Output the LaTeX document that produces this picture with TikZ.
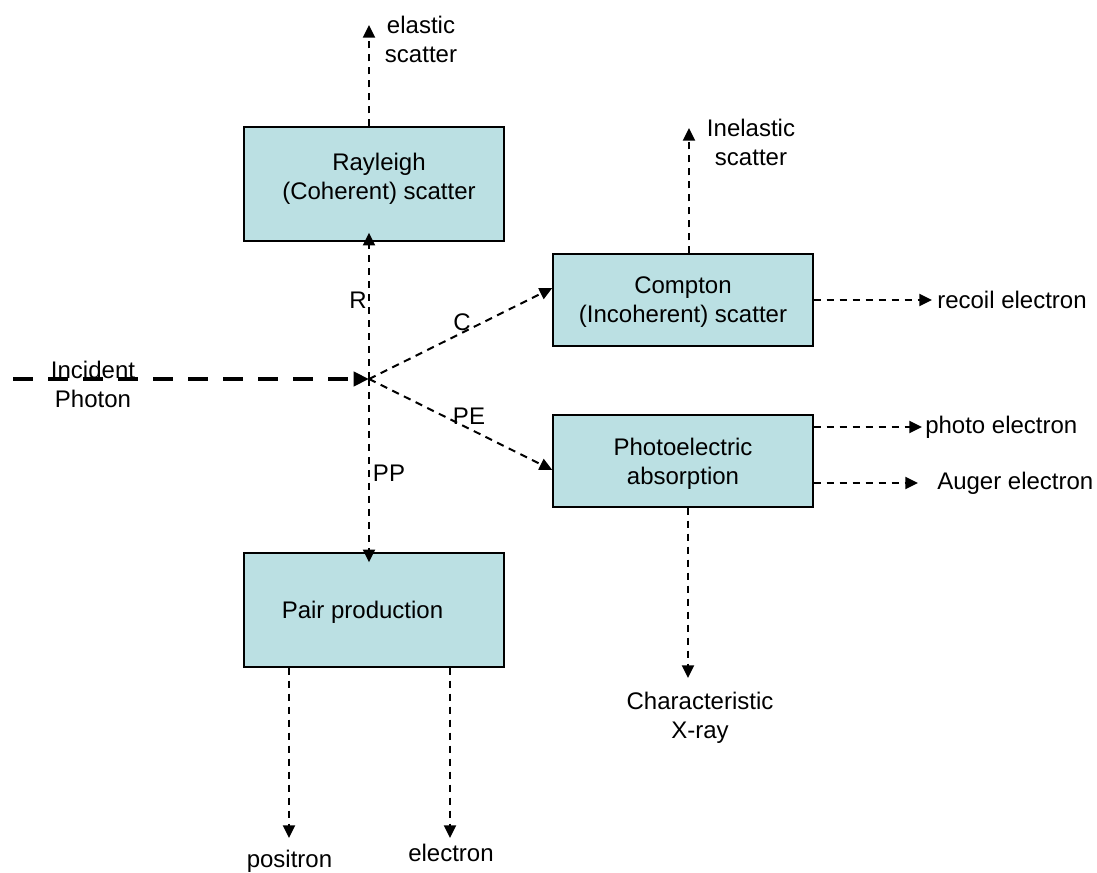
\documentclass[tikz,border=0pt]{standalone}
\usepackage{fontspec}
\setmainfont{Liberation Sans}
\usetikzlibrary{arrows.meta,calc}
\definecolor{boxfill}{RGB}{187,224,227}

\begin{document}
\begin{tikzpicture}[x=0.75pt,y=-0.75pt,
  font=\fontsize{18}{21.75}\selectfont,
  box/.style={draw=black, line width=1.1pt, fill=boxfill, inner sep=0pt, minimum width=195pt},
  txt/.style={align=center, inner sep=0pt},
  flow/.style={line width=1.5pt, dash pattern=on 5.5pt off 4.25pt,
               -{Triangle[length=9.5pt,width=9pt]}},
  incident/.style={line width=3.4pt, dash pattern=on 15pt off 11.25pt,
                   -{Triangle[length=11.5pt,width=10.5pt]}}
]
\useasboundingbox (0,0) rectangle (1097,873);

% interaction boxes
\node[box, minimum height=85.5pt] (rayleigh) at (374,184) {};
\node[box, minimum height=69pt]   (compton)  at (683,300) {};
\node[box, minimum height=69pt]   (photo)    at (683,461) {};
\node[box, minimum height=85.5pt] (pair)     at (374,610) {};

\node[txt] (rayleigh-t) at (379,179) {Rayleigh\\(Coherent) scatter};
\node[txt] (compton-t)  at (683,302) {Compton\\(Incoherent) scatter};
\node[txt] (photo-t)    at (683,464) {Photoelectric\\absorption};
\node[txt] (pair-t)     at (362.5,612) {Pair production};

% incoming photon
\coordinate (src) at (13,379);
\coordinate (o) at (369,379);
\draw[incident] (src) -- (o);
\node[txt] (incident-t) at (93,384) {Incident\\Photon};

% interaction channels
\draw[flow, shorten >=-6.75pt] (o) -- (o |- rayleigh.south);
\draw[flow, shorten >=-7.5pt]  (o) -- (o |- pair.north);
\draw[flow] (o) -- ($(compton.west)+(0,-12)$);
\draw[flow] (o) -- ($(photo.west)+(0,9)$);

\node[txt] (r-lab)  at (358,300) {R};
\node[txt] (c-lab)  at (462,322) {C};
\node[txt] (pe-lab) at (469,416) {PE};
\node[txt] (pp-lab) at (389,473) {PP};

% products
\coordinate (elastic-tip)   at (369,25);
\coordinate (inelastic-tip) at (689,128);
\coordinate (recoil-tip)    at (932,300);
\coordinate (pe-tip)        at (922,427);
\coordinate (auger-tip)     at (918,483);
\coordinate (xray-tip)      at (688,678);
\coordinate (positron-tip)  at (289,838);
\coordinate (electron-tip)  at (450,838);

\draw[flow] (elastic-tip |- rayleigh.north) -- (elastic-tip);
\draw[flow] (inelastic-tip |- compton.north) -- (inelastic-tip);
\draw[flow] (compton.east |- recoil-tip) -- (recoil-tip);
\draw[flow] (photo.east |- pe-tip) -- (pe-tip);
\draw[flow] (photo.east |- auger-tip) -- (auger-tip);
\draw[flow] (xray-tip |- photo.south) -- (xray-tip);
\draw[flow] (positron-tip |- pair.south) -- (positron-tip);
\draw[flow] (electron-tip |- pair.south) -- (electron-tip);

\node[txt] (elastic-t)   at (421,39)  {elastic\\scatter};
\node[txt] (inelastic-t) at (751,142) {Inelastic\\scatter};
\node[txt, anchor=west] (recoil-t) at (937,300) {recoil electron};
\node[txt, anchor=west] (pe-t)     at (925,427) {photo electron};
\node[txt, anchor=west] (auger-t)  at (937,483) {Auger electron};
\node[txt] (xray-t)     at (700,718) {Characteristic\\X-ray};
\node[txt] (positron-t) at (289.5,861) {positron};
\node[txt] (electron-t) at (451,853) {electron};
\end{tikzpicture}
\end{document}
